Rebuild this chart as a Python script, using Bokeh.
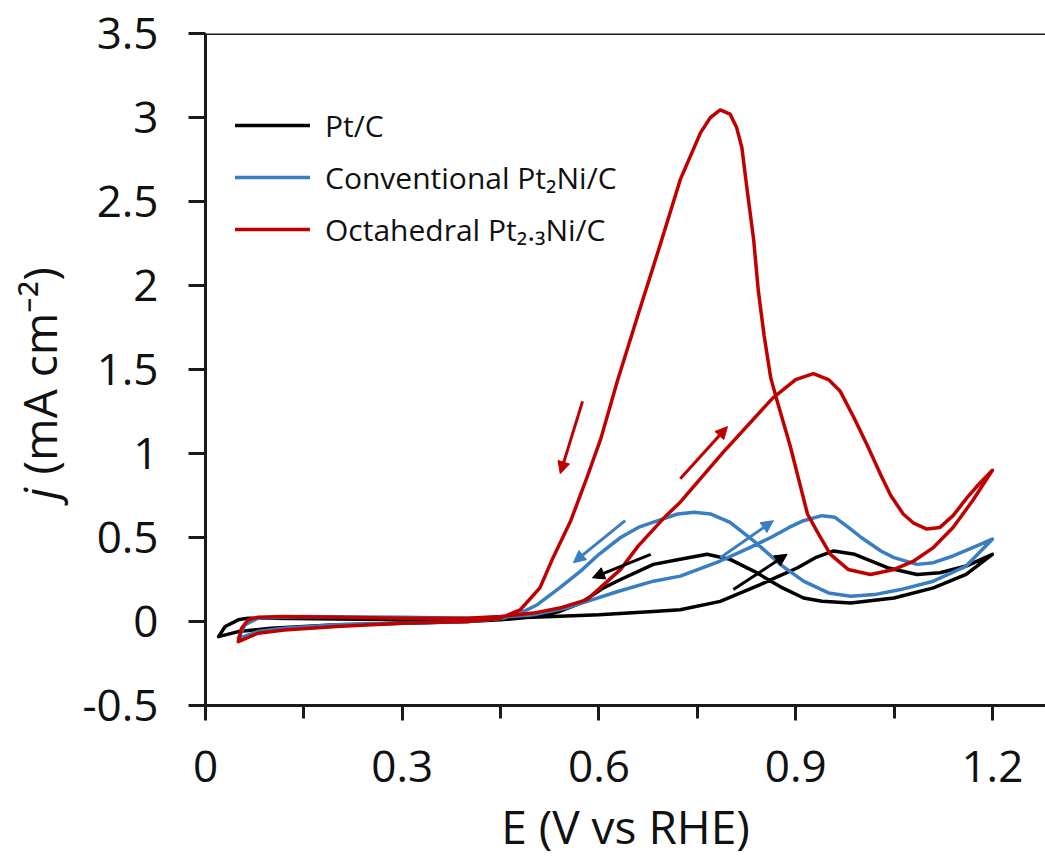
import math
from bokeh.plotting import figure
from bokeh.layouts import row
from bokeh.models import (Range1d, FixedTicker, Span, Legend, LegendItem,
                          Arrow, NormalHead)
from bokeh.core.properties import value
from bokeh.embed import file_html
from bokeh.resources import INLINE

# ---------------- data ----------------
ptc_E = [0.02, 0.03, 0.05, 0.065, 0.1, 0.2, 0.3, 0.4, 0.5, 0.6, 0.683, 0.724, 0.785,
         0.846, 0.903, 0.93, 0.958, 0.99, 1.04, 1.085, 1.12, 1.16, 1.2,
         1.16, 1.11, 1.05, 0.984, 0.94, 0.912, 0.88, 0.836, 0.8, 0.765, 0.724, 0.683,
         0.633, 0.607, 0.572, 0.54, 0.506, 0.45, 0.4, 0.3, 0.2, 0.1, 0.05, 0.02]
ptc_j = [-0.09, -0.03, 0.01, 0.02, 0.02, 0.015, 0.01, 0.015, 0.025, 0.04, 0.06, 0.07, 0.12,
         0.22, 0.32, 0.38, 0.42, 0.40, 0.32, 0.28, 0.29, 0.33, 0.40,
         0.28, 0.20, 0.14, 0.11, 0.12, 0.14, 0.20, 0.30, 0.37, 0.40, 0.37, 0.34,
         0.25, 0.20, 0.11, 0.06, 0.03, 0.01, 0.0, -0.01, -0.02, -0.04, -0.06, -0.09]

conv_E = [0.05, 0.06, 0.08, 0.15, 0.3, 0.4, 0.45, 0.5, 0.55, 0.582, 0.63, 0.683, 0.724,
          0.785, 0.83, 0.862, 0.89, 0.912, 0.94, 0.96, 0.984, 1.0, 1.03, 1.05, 1.085,
          1.11, 1.14, 1.17, 1.2,
          1.16, 1.11, 1.06, 1.02, 0.984, 0.95, 0.912, 0.88, 0.836, 0.8, 0.77, 0.745,
          0.72, 0.69, 0.66, 0.633, 0.6, 0.572, 0.54, 0.506, 0.48, 0.455, 0.4, 0.3,
          0.2, 0.12, 0.08, 0.05]
conv_j = [-0.1, -0.02, 0.02, 0.03, 0.025, 0.02, 0.025, 0.04, 0.08, 0.12, 0.18, 0.24, 0.27,
          0.36, 0.44, 0.50, 0.56, 0.60, 0.63, 0.62, 0.55, 0.50, 0.42, 0.38, 0.34,
          0.35, 0.39, 0.44, 0.49,
          0.33, 0.24, 0.19, 0.16, 0.15, 0.17, 0.24, 0.33, 0.48, 0.59, 0.64, 0.65,
          0.64, 0.60, 0.56, 0.50, 0.40, 0.30, 0.20, 0.10, 0.05, 0.02, 0.0, -0.01,
          -0.02, -0.04, -0.06, -0.1]

octa_E = [0.05, 0.055, 0.065, 0.08, 0.12, 0.2, 0.3, 0.4, 0.45, 0.5, 0.54, 0.582, 0.633,
          0.66, 0.70, 0.724, 0.79, 0.865, 0.9, 0.927, 0.95, 0.968, 0.988, 1.009, 1.03,
          1.045, 1.064, 1.08, 1.1, 1.12, 1.14, 1.162, 1.18, 1.2,
          1.17, 1.14, 1.11, 1.08, 1.05, 1.014, 0.98, 0.953, 0.935, 0.918, 0.905, 0.892,
          0.872, 0.862, 0.852, 0.843, 0.836, 0.826, 0.818, 0.81, 0.80, 0.785, 0.77, 0.755,
          0.724, 0.694, 0.66, 0.628, 0.603, 0.582, 0.557, 0.53, 0.51, 0.48, 0.45,
          0.4, 0.3, 0.2, 0.12, 0.08, 0.05]
octa_j = [-0.12, -0.04, 0.01, 0.025, 0.03, 0.025, 0.02, 0.02, 0.03, 0.05, 0.08, 0.13, 0.31,
          0.45, 0.62, 0.71, 1.01, 1.33, 1.44, 1.475, 1.44, 1.37, 1.22, 1.05, 0.87,
          0.75, 0.64, 0.585, 0.55, 0.56, 0.63, 0.74, 0.82, 0.9,
          0.72, 0.56, 0.44, 0.36, 0.31, 0.28, 0.31, 0.40, 0.52, 0.64, 0.84, 1.04,
          1.31, 1.45, 1.7, 1.97, 2.27, 2.57, 2.82, 2.94, 3.02, 3.045, 3.0, 2.91,
          2.63, 2.25, 1.83, 1.43, 1.09, 0.86, 0.60, 0.38, 0.2, 0.07, 0.02,
          0.0, -0.01, -0.03, -0.05, -0.07, -0.12]

series_names = ["Pt/C", "Conventional Pt\u2082Ni/C", "Octahedral Pt\u2082.\u2083Ni/C"]
series_colors = ["#000000", "#3A7EC2", "#C00000"]

# arrows: (x_start, y_start, x_end, y_end)
arrow_x0 = [0.679, 0.805, 0.640, 0.785, 0.575, 0.724]
arrow_y0 = [0.40, 0.19, 0.60, 0.38, 1.31, 0.85]
arrow_x1 = [0.590, 0.887, 0.561, 0.866, 0.541, 0.796]
arrow_y1 = [0.26, 0.40, 0.35, 0.60, 0.88, 1.16]
arrow_colors = ["#000000", "#000000", "#3A7EC2", "#3A7EC2", "#C00000", "#C00000"]

x_ticks = [0, 0.3, 0.6, 0.9, 1.2]
x_minor = [0.15, 0.45, 0.75, 1.05]
x_labels = ["0", "0.3", "0.6", "0.9", "1.2"]
y_ticks = [-0.5, 0, 0.5, 1, 1.5, 2, 2.5, 3, 3.5]
y_labels = ["-0.5", "0", "0.5", "1", "1.5", "2", "2.5", "3", "3.5"]

x_title = "E (V vs RHE)"
y_title_italic = "j"
y_title_rest = "(mA cm\u207b\u00b2)"

FONT = "Open Sans"
TXT = "#111111"
AX = "#1a1a1a"

W, H = 1045, 861
TITLE_W = 74

# ---------------- narrow strip holding the y-axis title ----------------
pt = figure(width=TITLE_W, height=H, x_range=Range1d(0, TITLE_W), y_range=Range1d(0, H),
            x_axis_type=None, y_axis_type=None, output_backend="svg",
            toolbar_location=None, min_border=0)
pt.outline_line_color = None
pt.grid.grid_line_color = None
pt.text(x=[38], y=[H - 517 - 80], text=[y_title_italic], angle=math.pi / 2,
        text_font=value(FONT), text_font_size="46px", text_font_style="italic",
        text_align="left", text_baseline="middle", text_color=TXT)
pt.text(x=[38], y=[H - 485 - 80], text=[y_title_rest], angle=math.pi / 2,
        text_font=value(FONT), text_font_size="46px", text_font_style="normal",
        text_align="left", text_baseline="middle", text_color=TXT)

# ---------------- main figure ----------------
p = figure(width=W - TITLE_W, height=H, x_range=Range1d(0, 1.281), y_range=Range1d(-0.5, 3.5),
           output_backend="svg", toolbar_location=None,
           min_border_left=205 - TITLE_W, min_border_right=0, min_border_top=33,
           min_border_bottom=156)
p.outline_line_color = None
p.grid.grid_line_color = None

renderers = []
for E, j, c in [(ptc_E, ptc_j, series_colors[0]),
                (conv_E, conv_j, series_colors[1]),
                (octa_E, octa_j, series_colors[2])]:
    r = p.line(E, j, line_color=c, line_width=3.5, line_join="round", line_cap="round")
    renderers.append(r)

for xs, ys, xe, ye, c in zip(arrow_x0, arrow_y0, arrow_x1, arrow_y1, arrow_colors):
    p.add_layout(Arrow(x_start=xs, y_start=ys, x_end=xe, y_end=ye, line_color=c,
                       line_width=3,
                       end=NormalHead(size=12, fill_color=c, line_color=c, line_width=1)))

# top frame line
p.add_layout(Span(location=3.5, dimension="width", line_color=AX, line_width=3))

# axes
xa = p.xaxis[0]
xa.ticker = FixedTicker(ticks=x_ticks, minor_ticks=x_minor)
xa.major_label_overrides = {t: l for t, l in zip(x_ticks, x_labels)}
ya = p.yaxis[0]
ya.ticker = FixedTicker(ticks=y_ticks, minor_ticks=[])
ya.major_label_overrides = {t: l for t, l in zip(y_ticks, y_labels)}

for ax in (xa, ya):
    ax.axis_line_color = AX
    ax.axis_line_width = 3
    ax.major_tick_line_color = AX
    ax.major_tick_line_width = 3
    ax.minor_tick_line_color = AX
    ax.minor_tick_line_width = 3
    ax.major_tick_in = 0
    ax.minor_tick_in = 0
    ax.major_label_text_font = FONT
    ax.major_label_text_font_size = "44px"
    ax.major_label_text_color = TXT

xa.major_tick_out = 15
xa.minor_tick_out = 13
xa.major_label_standoff = 30
xa.axis_label = x_title
xa.axis_label_text_font = FONT
xa.axis_label_text_font_size = "46px"
xa.axis_label_text_font_style = "normal"
xa.axis_label_text_color = TXT
xa.axis_label_standoff = 10

ya.major_tick_out = 17
ya.minor_tick_out = 0
ya.major_label_standoff = 30

# legend
items = [LegendItem(label=n, renderers=[r]) for n, r in zip(series_names, renderers)]
leg = Legend(items=items, location=(30, 452), glyph_width=75, glyph_height=48,
             label_height=48, spacing=4, padding=0, margin=0, label_standoff=15,
             label_text_font=FONT, label_text_font_size="30px", label_text_color=TXT,
             border_line_color=None, background_fill_alpha=0)
p.add_layout(leg)

layout = row(pt, p, spacing=0)
open("out.html", "w").write(file_html(layout, INLINE))
